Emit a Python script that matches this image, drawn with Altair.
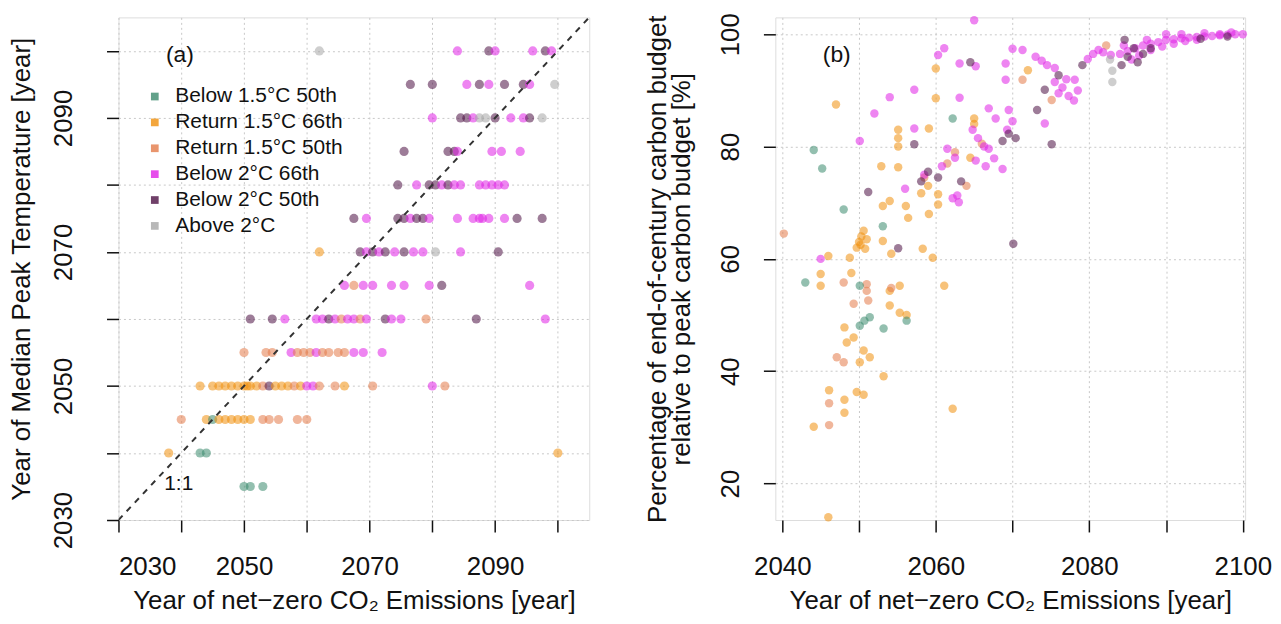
import altair as alt
import pandas as pd

FONT = "Liberation Sans"

group_codes = ["G", "O", "R", "M", "P", "A"]
group_names = ["Below 1.5°C 50th", "Return 1.5°C 66th", "Return 1.5°C 50th",
               "Below 2°C 66th", "Below 2°C 50th", "Above 2°C"]
group_colors = ["#3b8a6d", "#f0900c", "#e47a48", "#e020e6", "#4c1044", "#a6a6a6"]

# ---------------- panel (a): net-zero year vs median peak temperature year
a_peak = (
    [2100] * 7 + [2095] * 9 + [2090] * 11 + [2085] * 7 + [2080] * 13 + [2075] * 16
    + [2070] * 13 + [2065] * 9 + [2060] * 18 + [2055] * 15 + [2050] * 25
    + [2045] * 14 + [2040] * 4 + [2035] * 3
)
a_netzero = [
    2062, 2084, 2089, 2090, 2096, 2098, 2099,
    2076.5, 2080, 2085.5, 2087.5, 2089, 2091.5, 2094.5, 2095.5, 2099.5,
    2080, 2084.5, 2085.5, 2086.5, 2087.5, 2088.5, 2090, 2092.5, 2094.5, 2095.5, 2097.5,
    2075.5, 2082.5, 2083.5, 2084, 2089.5, 2091, 2094,
    2074.5, 2077.5, 2079.5, 2080.5, 2081.5, 2082.5, 2083.5, 2084.5, 2087.5, 2088.5, 2089.5, 2090.5, 2091.5,
    2067.5, 2069.5, 2074.5, 2075.5, 2076.5, 2077.5, 2078.5, 2079.5, 2084, 2086.5, 2087.5, 2088, 2089, 2091.5, 2093.5, 2097.5,
    2062, 2068.5, 2069.5, 2070.5, 2071.5, 2072.5, 2074, 2075.5, 2077, 2078.5, 2080.5, 2084.5, 2090.5,
    2066, 2067.5, 2069, 2070.5, 2073.5, 2075.5, 2079.5, 2081.5, 2095.5,
    2051, 2054.5, 2056.5, 2061.5, 2062.5, 2063.5, 2064.5, 2065.5, 2066.5, 2067.5, 2068.5, 2069.5, 2072.5, 2073.5, 2075, 2079, 2087, 2098,
    2050, 2053.5, 2054.5, 2057.5, 2058.5, 2059.5, 2060.5, 2061.5, 2062.5, 2063.5, 2065, 2066, 2067.5, 2069, 2072,
    2043, 2045, 2046, 2047, 2048, 2049, 2050, 2050.5, 2051, 2052, 2053, 2054, 2055, 2056, 2057, 2058, 2059, 2060, 2061, 2062, 2064.5, 2066, 2070.5, 2080, 2082,
    2040, 2044, 2045, 2046, 2047, 2048, 2049, 2050, 2051, 2053, 2054, 2055.5, 2058.5, 2060,
    2038, 2043, 2044, 2100,
    2050, 2051, 2053,
]
a_group = list(
    "AMPMMPM"
    "PPMPMPPMA"
    "MPPMAAPMMPA"
    "PPPMMMM"
    "PMPPMPMMMMMMM"
    "PMPPMPPMMMMMMMPP"
    "OPMPMPMPMMAMP"
    "MRMMMMMPM"
    "PPMMMPMRMMRMPMMRPM"
    "RRRMRRRMRRRRMMM"
    "OOOOOOOOOORPOOOROMMRROR" "MR"
    "ROGOOOOOORRRRR"
    "OGGO"
    "GGG"
)

# ---------------- panel (b): net-zero year vs % of end-of-century budget, one pair of lists per group
bO_x = [2047, 2060, 2060, 2072, 2065, 2065, 2059.1, 2055.1, 2055.1, 2055.1, 2052.9, 2055.1,
        2049.7, 2050, 2050.3, 2050.6, 2051, 2050.2, 2050.8,
        2053.1, 2054.2, 2046, 2048.8, 2058.3, 2059.6, 2059.1, 2056.4, 2056.1, 2053.1, 2054, 2058.1, 2060.3, 2060.3,
        2061.1, 2045, 2045, 2049, 2054, 2055.3,
        2054, 2055.3, 2056.2, 2048.1, 2049.3, 2048.4, 2050.6, 2051.4, 2050.1, 2053.2, 2046.1, 2048.1, 2049.7, 2050.6,
        2048.1, 2044.1, 2062.2, 2046, 2064.5, 2059]
bO_y = [87.5, 93.9, 88.6, 93.6, 85, 84, 83.2, 80, 81.5, 83, 76.5, 76.3,
        62, 63, 64, 65, 63.5, 62.5, 61.8,
        63.2, 60.9, 60.5, 60.2, 61.8, 60.2, 68, 67.3, 69.4, 69.4, 70.3, 71.7, 71.5, 69.7,
        55.2, 55.2, 57.3, 57.5, 54.3, 55.2,
        51.7, 50.4, 50, 47.8, 46, 45.1, 43.7, 42.5, 41.6, 39.1, 36.6, 34.9, 36.3, 35.8,
        32.6, 30.1, 33.3, 14, 78, 73]
bR_x = [2040.2, 2071.3, 2082.2, 2075.1, 2048, 2051, 2051, 2054.2, 2049.3, 2051.2, 2047.1, 2048,
        2046.1, 2046.1, 2061.5, 2062.5, 2066, 2058.5, 2064]
bR_y = [64.5, 91.9, 98, 88.3, 55.8, 55.5, 54.3, 54.8, 52, 52.6, 42.5, 41.6,
        34.3, 30.4, 77, 79, 80.5, 74.5, 73]
bG_x = [2044.1, 2045.2, 2048, 2053.1, 2043, 2050.1, 2050.1, 2050.7, 2051.4, 2053.2, 2056.2, 2062.2]
bG_y = [79.4, 76.1, 68.8, 65.8, 55.8, 55.2, 48.1, 49, 49.6, 47.6, 49, 85]
bM_x = [2050.1, 2052, 2054, 2057.2, 2060.3, 2061.1, 2063.1, 2065.2, 2063.1, 2065, 2069.1, 2069.1,
        2070, 2071.3, 2073, 2073.8, 2074.5, 2075.5, 2074.2, 2075.5, 2076.5, 2077.3, 2078, 2078.5, 2077, 2078.1, 2076,
        2079.8, 2080.5, 2081.2, 2081.8, 2082.8,
        2084, 2085, 2086, 2087, 2088, 2089, 2090, 2091, 2092, 2093, 2094, 2095, 2096, 2097, 2098, 2099, 2100,
        2084.5, 2085.5, 2086.5, 2088, 2089.5, 2091, 2092.5, 2094, 2087.5, 2090, 2092, 2095, 2097, 2098.5,
        2045, 2057.2, 2062.2, 2062.8, 2063, 2064.8, 2065.5, 2066.3, 2066.9, 2065.2, 2066.5, 2067.6, 2068.7,
        2066.9, 2067.8, 2069.5, 2070, 2069.3, 2061.5, 2062.5, 2060.8, 2058.5, 2056]
bM_y = [81, 85.9, 88.8, 90.1, 96.3, 97.5, 94.8, 94.3, 88.7, 102.5, 94.8, 91.9,
        97.4, 97.2, 96, 95.3, 94.5, 94, 84.1, 91.5, 90.5, 89, 88.2, 90, 92, 91.9, 89.5,
        95.6, 96.5, 97.2, 96.8, 96.3,
        96.5, 97, 97.5, 98, 98.3, 98.6, 99, 99.1, 99.3, 99.4, 99.5, 99.6, 99.7, 99.8, 99.9, 100, 100,
        98, 95.5, 96.2, 97.2, 97.8, 98.3, 98.8, 99, 99, 100, 100, 100.2, 100, 100.3,
        60, 83.2, 70.8, 71.3, 70.1, 83, 81.5, 80, 79.6, 77.5, 76.5, 77.9, 76,
        86.8, 85, 86.5, 84.5, 83, 79.6, 78, 76.5, 75, 72.5]
bP_x = [2051.2, 2055.1, 2058.1, 2059, 2060.3, 2063.3, 2057.2, 2068.7, 2069.5, 2070.4, 2070.1, 2073.2,
        2075.1, 2074.2, 2076, 2079.1, 2084.2, 2085, 2085.8, 2086.3, 2084.6, 2087, 2088, 2094.5, 2098, 2064.5]
bP_y = [71.9, 61.9, 73.8, 75.5, 74.5, 73.8, 80.4, 81, 82.3, 81.5, 62.7, 86.5,
        80.4, 90.1, 92.7, 94.5, 94.5, 96, 97.5, 95, 99, 96.5, 97.5, 99.2, 99.6, 95]
bA_x = [2083, 2083, 2082.7]
bA_y = [91.5, 93.5, 95.5]

# annotation texts (data coordinates)
a_notes_text = ["(a)", "1:1"]
a_notes_x = [2039.8, 2039.6]
a_notes_y = [2099.4, 2035.4]
a_notes_size = [23, 21]
b_notes_text = ["(b)"]
b_notes_x = [2047.1]
b_notes_y = [96.3]
one_to_one = [2030, 2105]

name_of = dict(zip(group_codes, group_names))
dfa = pd.DataFrame({"x": a_netzero, "y": a_peak, "g": [name_of[c] for c in a_group]})
b_parts = []
for code, xs, ys in [("O", bO_x, bO_y), ("R", bR_x, bR_y), ("G", bG_x, bG_y),
                     ("M", bM_x, bM_y), ("P", bP_x, bP_y), ("A", bA_x, bA_y)]:
    b_parts.append(pd.DataFrame({"x": xs, "y": ys, "g": name_of[code]}))
dfb = pd.concat(b_parts, ignore_index=True)
dline = pd.DataFrame({"x": one_to_one, "y": one_to_one})
dna = pd.DataFrame({"x": a_notes_x, "y": a_notes_y, "t": a_notes_text, "s": a_notes_size})
dnb = pd.DataFrame({"x": b_notes_x, "y": b_notes_y, "t": b_notes_text})

WA, WB, H = 473, 472, 505
FS = 26
grid = dict(grid=True, gridDash=[2, 3], gridColor="#c8c8c8", gridWidth=1)
axis_common = dict(domain=False, tickColor="#111", tickWidth=1.5, tickSize=12,
                   labelFontSize=FS, titleFontSize=FS, labelColor="#111", titleColor="#111",
                   titleFontWeight="normal", labelFont=FONT, titleFont=FONT, **grid)

color_scale = alt.Scale(domain=group_names, range=group_colors)

# panel a
xa = alt.X("x:Q", scale=alt.Scale(domain=[2030, 2105], nice=False, zero=False),
           axis=alt.Axis(values=list(range(2030, 2101, 10)), format="d",
                         labelExpr="datum.value % 20 == 0 ? '' : datum.label",
                         title="Year of net−zero CO₂ Emissions [year]",
                         labelPadding=22, titlePadding=8, **axis_common))
ya = alt.Y("y:Q", scale=alt.Scale(domain=[2030, 2105], nice=False, zero=False),
           axis=alt.Axis(values=list(range(2030, 2101, 10)), format="d",
                         labelExpr="datum.value % 20 == 0 ? '' : datum.label",
                         labelAngle=-90, title="Year of Median Peak Temperature [year]",
                         labelPadding=30, titlePadding=16, **axis_common))

pts_a = alt.Chart(dfa).mark_circle(size=85, opacity=0.55).encode(
    x=xa, y=ya,
    color=alt.Color("g:N", scale=color_scale,
                    legend=alt.Legend(title=None, orient="none", legendX=26, legendY=69,
                                      symbolType="square", symbolSize=60, symbolOpacity=0.8,
                                      labelFontSize=21, labelFont=FONT, labelColor="#111",
                                      labelLimit=0, rowPadding=4, labelOffset=10, padding=0,
                                      values=group_names)),
)
line_a = alt.Chart(dline).mark_line(color="#333", strokeWidth=2, strokeDash=[6, 6], clip=True).encode(
    x="x:Q", y="y:Q")
text_a = alt.Chart(dna).mark_text(font=FONT, color="#111", align="center", baseline="middle").encode(
    x="x:Q", y="y:Q", text="t:N", size=alt.Size("s:Q", scale=None, legend=None))
panel_a = alt.layer(pts_a, line_a, text_a).properties(width=WA, height=H)

# panel b
xb = alt.X("x:Q", scale=alt.Scale(domain=[2039.1, 2100.3], nice=False, zero=False),
           axis=alt.Axis(values=list(range(2040, 2101, 10)), format="d",
                         labelExpr="datum.value % 20 == 10 ? '' : datum.label",
                         title="Year of net−zero CO₂ Emissions [year]",
                         labelPadding=22, titlePadding=8, **axis_common))
yb = alt.Y("y:Q", scale=alt.Scale(domain=[13.5, 103], nice=False, zero=False),
           axis=alt.Axis(values=[20, 40, 60, 80, 100], format="d", labelAngle=-90,
                         title=["Percentage of end-of-century carbon budget",
                                "relative to peak carbon budget [%]"],
                         titleLineHeight=24,
                         labelPadding=20, titlePadding=23, **axis_common))
pts_b = alt.Chart(dfb).mark_circle(size=72, opacity=0.55).encode(
    x=xb, y=yb, color=alt.Color("g:N", scale=color_scale, legend=None))
text_b = alt.Chart(dnb).mark_text(font=FONT, fontSize=23, color="#111").encode(
    x="x:Q", y="y:Q", text="t:N")
panel_b = alt.layer(pts_b, text_b).properties(width=WB, height=H)

chart = alt.hconcat(panel_a, panel_b, spacing=54).resolve_legend(color="independent").properties(
    padding={"left": 0, "top": 2, "right": 0, "bottom": 0}
).configure_view(stroke="#333", strokeWidth=2).configure(font=FONT, background="white")

chart.save("out.html", embed_options={"renderer": "svg", "actions": False})
